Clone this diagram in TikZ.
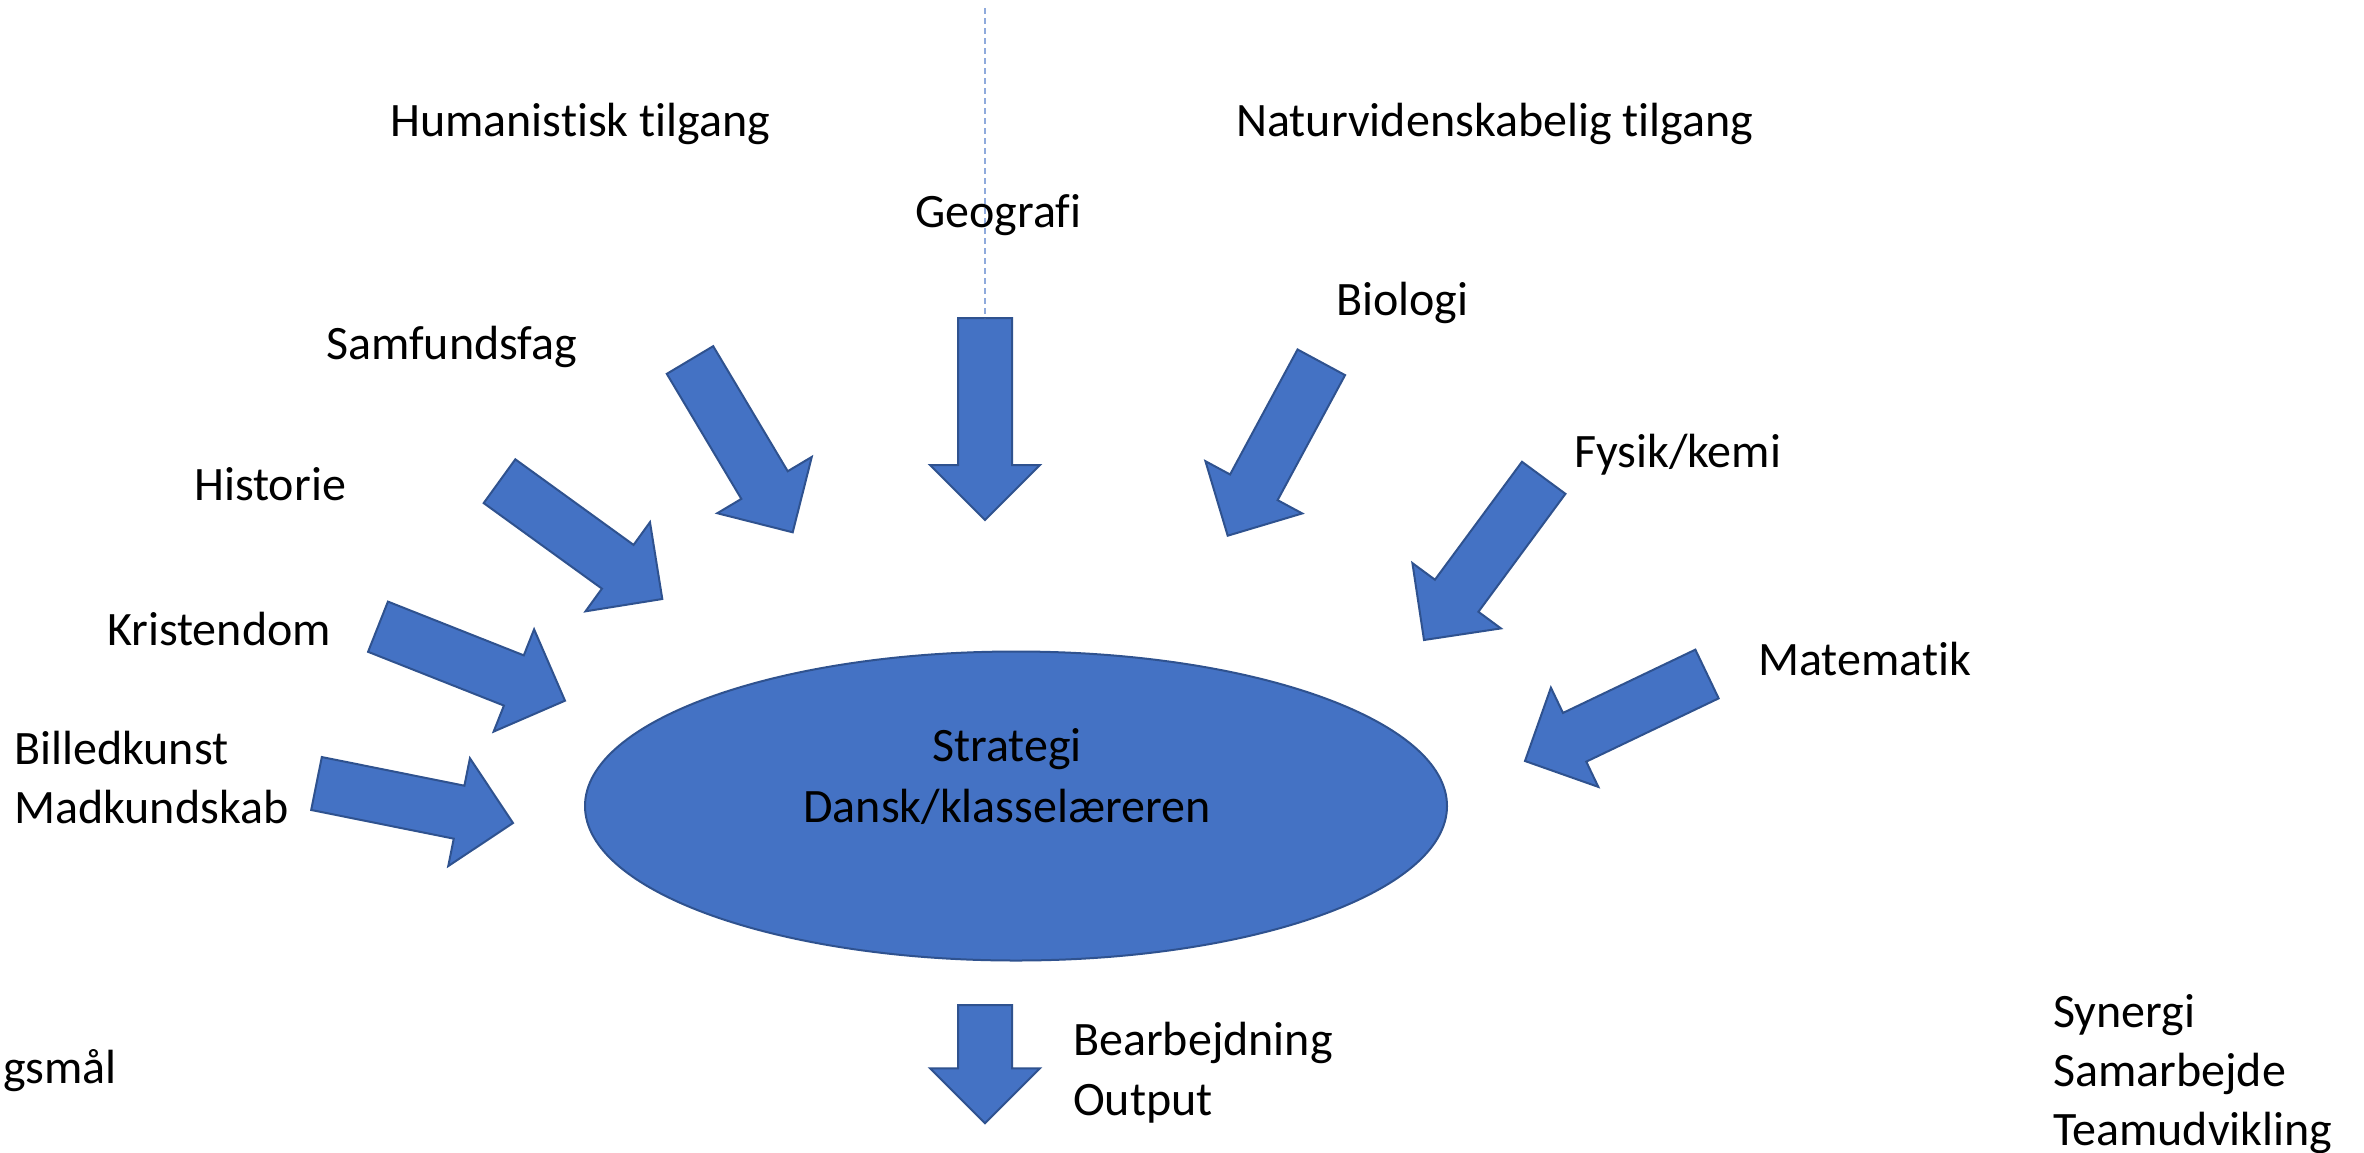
\documentclass[tikz,border=0pt]{standalone}
\usepackage{fontspec}
\setmainfont{Carlito}[Ligatures=NoCommon]
\usetikzlibrary{calc,shapes.geometric}
\definecolor{accent}{HTML}{4472C4}
\definecolor{accentdark}{HTML}{2F528F}
\definecolor{guide}{HTML}{8FAADC}
\tikzset{
  lbl/.style={anchor=base west, inner sep=0pt, font=\fontsize{48}{59}\selectfont, align=left},
  fatarrow/.style={fill=accent, draw=accentdark, line width=2pt, line join=miter},
  guideline/.style={draw=guide, line width=2pt, dash pattern=on 6pt off 4pt},
}
\newcommand{\drawfatarrow}[3]{%
  \coordinate (#1-t) at (#2);
  \coordinate (#1-p) at (#3);
  \coordinate (#1-h) at ($(#1-p)!55pt!(#1-t)$);
  \draw[fatarrow] ($(#1-t)!27pt!90:(#1-p)$) -- ($(#1-h)!27pt!90:(#1-p)$) -- ($(#1-h)!55pt!90:(#1-p)$) -- (#1-p) -- ($(#1-h)!55pt!-90:(#1-p)$) -- ($(#1-h)!27pt!-90:(#1-p)$) -- ($(#1-t)!27pt!-90:(#1-p)$) -- cycle;
}
\begin{document}
\begin{tikzpicture}[x=1pt,y=-1pt]
\clip (0,0) rectangle (2364,1152);
\fill[white] (0,0) rectangle (2364,1152);

% central ellipse
\node[ellipse, fill=accent, draw=accentdark, line width=2pt, minimum width=862pt, minimum height=309pt, inner sep=0pt] (strat) at (1016,806) {};
\node[anchor=base, inner sep=0pt, font=\fontsize{48}{61}\selectfont, align=center] (strattext) at (1007,822) {Strategi\\Dansk/klasselæreren};

% arrows
\drawfatarrow{geo}{985,318}{985,520}
\drawfatarrow{samf}{690,360}{792.7,532.3}
\drawfatarrow{hist}{499.5,481.2}{662.3,599}
\drawfatarrow{krist}{378,626.7}{565,700.7}
\drawfatarrow{bill}{316.5,783.5}{513,823}
\drawfatarrow{bio}{1321.3,362.3}{1227.7,535.7}
\drawfatarrow{fys}{1543.7,477.8}{1424,640}
\drawfatarrow{mat}{1707,674}{1525,761}
\drawfatarrow{out}{985,1005}{985,1123.3}

% dashed guide
\coordinate (guidetop) at (985,8);
\draw[guideline] (guidetop) -- (geo-t);

% labels
\node[lbl] (human) at (390,136) {Humanistisk tilgang};
\node[lbl] (natur) at (1236,136) {Naturvidenskabelig tilgang};
\node[lbl] (geotxt) at (915,227) {Geografi};
\node[lbl] (samftxt) at (326,359) {Samfundsfag};
\node[lbl] (histtxt) at (194,500) {Historie};
\node[lbl] (kristtxt) at (107,645) {Kristendom};
\node[lbl] (billtxt) at (14,823) {Billedkunst\\Madkundskab};
\node[lbl] (biotxt) at (1336,315) {Biologi};
\node[lbl] (fystxt) at (1574,467) {Fysik/kemi};
\node[lbl, font=\fontsize{48}{60}\selectfont] (outtxt) at (1073,1115) {Bearbejdning\\Output};
\node[lbl] (mattxt) at (1758,675) {Matematik};
\node[lbl] (syntxt) at (2053,1145) {Synergi\\Samarbejde\\Teamudvikling};
\node[lbl] (gsmtxt) at (3,1083) {gsmål};
\end{tikzpicture}
\end{document}
